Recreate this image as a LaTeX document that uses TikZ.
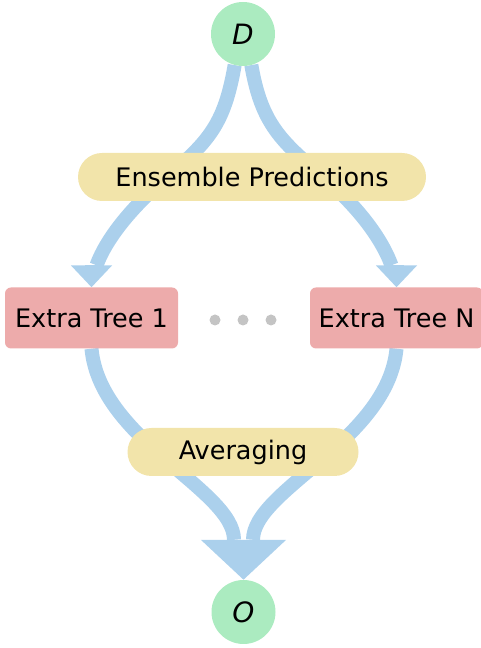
\documentclass[tikz,border=0pt]{standalone}
\usepackage{fontspec}
\setmainfont{DejaVu Sans}
\usetikzlibrary{calc}
\usetikzlibrary{arrows.meta}
\usetikzlibrary{backgrounds}

\definecolor{flowblue}{HTML}{ABD0EC}
\definecolor{termgreen}{HTML}{ABEBC0}
\definecolor{stageyellow}{HTML}{F2E4AA}
\definecolor{treered}{HTML}{EDABAB}
\definecolor{dotgray}{HTML}{C4C4C4}

\begin{document}
\begin{tikzpicture}[
		x=1pt, y=1pt,
		font=\fontsize{25.5}{30}\selectfont,
		term/.style={circle, fill=termgreen, minimum size=64pt, inner sep=0pt, font=\fontsize{28}{32}\selectfont},
		stage/.style={rounded corners=24pt, fill=stageyellow, minimum height=48pt, inner sep=0pt},
		tree/.style={rounded corners=6pt, fill=treered, minimum width=173pt, minimum height=61pt, inner sep=0pt},
		flow/.style={draw=flowblue, line width=14pt},
		gapdot/.style={circle, fill=dotgray, minimum size=11pt, inner sep=0pt}
	]
	\useasboundingbox (0,0) rectangle (480,648);

	% Input and output
	\node[term] (D) at (243,614) {\textit{D}};
	\node[term] (O) at (243.5,36) {\textit{O}};

	% Stages of the ensemble
	\node[stage, minimum width=348pt] (ens) at (252,471) {Ensemble Predictions};
	\node[tree] (t1) at (91.5,330) {Extra Tree 1};
	\node[tree] (tn) at (396.5,330) {Extra Tree N};
	\node[gapdot] (g1) at (215,328) {};
	\node[gapdot] (g2) at (243,328) {};
	\node[gapdot] (g3) at (271,328) {};
	\node[stage, minimum width=231pt] (avg) at (243,196) {Averaging};

	% Flows go behind the boxes
	\begin{scope}[on background layer]
		% where the top flows pass behind the first stage
		\coordinate (sL) at (167,471);
		\coordinate (sR) at (323,471);
		% ends of the top flows and bases of their heads
		\coordinate (eL) at ($(t1.north)+(5,22)$);
		\coordinate (eR) at ($(tn.north)+(-5,22)$);
		\coordinate (aL) at ($(t1.north)+(0,22)$);
		\coordinate (aR) at ($(tn.north)+(0,22)$);
		% bases above the output
		\coordinate (mL) at ($(O.north)+(-9.5,40)$);
		\coordinate (mC) at ($(O.north)+(0,40)$);
		\coordinate (mR) at ($(O.north)+(9.5,40)$);

		\draw[flow] (D.-105) .. controls +(-10.2,-59.1) and +(41.8,35.75) .. (sL)
			.. controls +(-34.2,-29.25) and +(10.5,28.2) .. (eL);
		\draw[flow, -{Triangle[width=40pt, length=22pt]}] (aL) -- (t1.north);
		\draw[flow] (D.-75) .. controls +(10.2,-59.1) and +(-41.8,35.75) .. (sR)
			.. controls +(34.2,-29.25) and +(-10.5,28.2) .. (eR);
		\draw[flow, -{Triangle[width=40pt, length=22pt]}] (aR) -- (tn.north);

		\draw[flow] (t1.south) .. controls +(8.5,-91.5) and +(0,50) .. (mL);
		\draw[flow] (tn.south) .. controls +(-8.5,-91.5) and +(0,50) .. (mR);
		\draw[flow, -{Triangle[width=83pt, length=40pt]}] (mC) -- (O.north);
	\end{scope}
\end{tikzpicture}
\end{document}
